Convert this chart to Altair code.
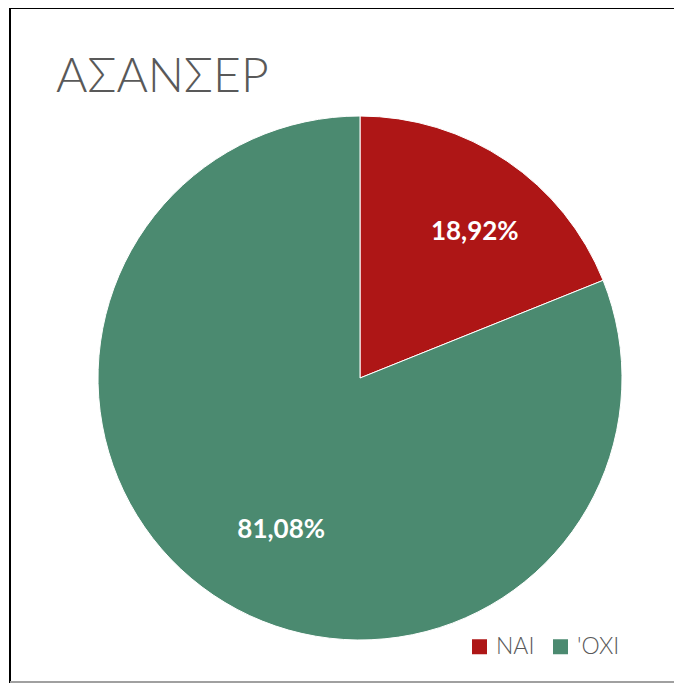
import altair as alt
import pandas as pd

title_text = "ΑΣΑΝΣΕΡ"
categories = ["ΝΑΙ", "'ΟΧΙ"]
values = [18.92, 81.08]
colors = ["#AE1616", "#4B8A70"]
# per-label fine offsets (px), style only
label_dx = [14, 22]
label_dy = [3, 3]

df = pd.DataFrame({
    "cat": categories,
    "val": values,
    "idx": list(range(len(categories))),
})
df["lab"] = [f"{v:.2f}".replace(".", ",") + "%" for v in values]

CX, CY, R = 352, 370, 262

pie = alt.Chart(df).mark_arc(outerRadius=R, stroke="white", strokeWidth=1).encode(
    theta=alt.Theta("val:Q", stack=True),
    order=alt.Order("idx:Q"),
    x=alt.value(CX),
    y=alt.value(CY),
    color=alt.Color(
        "cat:N",
        scale=alt.Scale(domain=categories, range=colors),
        sort=categories,
        legend=alt.Legend(
            title=None,
            orient="none",
            legendX=460,
            legendY=627,
            direction="horizontal",
            symbolType="square",
            symbolSize=225,
            symbolStrokeWidth=0,
            labelFontSize=23,
            labelFont="Lato",
            labelFontWeight=300,
            labelColor="#595959",
            labelOffset=5,
            columnPadding=14,
        ),
    ),
)

label_base = alt.Chart(df).transform_window(
    cum="sum(val)", sort=[alt.SortField("idx")]
).transform_calculate(
    mid="datum.cum - datum.val / 2"
)

label_layers = []
for i in range(len(categories)):
    label_layers.append(
        label_base.transform_filter(alt.datum.idx == i).mark_text(
            radius=180, font="Lato", fontSize=26, fontWeight="bold",
            color="white", dx=label_dx[i], dy=label_dy[i],
        ).encode(
            theta=alt.Theta("mid:Q", stack=False, scale=alt.Scale(domain=[0, 100])),
            x=alt.value(CX),
            y=alt.value(CY),
            text="lab:N",
        )
    )

title = alt.Chart(pd.DataFrame({"t": [title_text]})).mark_text(
    font="Lato", fontSize=48, fontWeight=300, color="#595959", align="left",
    baseline="alphabetic",
).encode(x=alt.value(48), y=alt.value(84), text="t:N")

border_left = alt.Chart(pd.DataFrame({"a": [0]})).mark_rule(color="black", strokeWidth=2).encode(
    x=alt.value(2), y=alt.value(0), y2=alt.value(675)
)
border_top = alt.Chart(pd.DataFrame({"a": [0]})).mark_rule(color="black", strokeWidth=2).encode(
    x=alt.value(2), x2=alt.value(666), y=alt.value(0)
)
border_bottom = alt.Chart(pd.DataFrame({"a": [0]})).mark_rule(color="#A0A0A0", strokeWidth=2).encode(
    x=alt.value(2), x2=alt.value(666), y=alt.value(674)
)

chart = alt.layer(pie, *label_layers, title, border_left, border_top, border_bottom).properties(
    width=666,
    height=675,
    autosize=alt.AutoSizeParams(type="none"),
    padding=0,
).resolve_scale(theta="independent").configure_view(stroke=None)

chart.save("out.html", embed_options={"renderer": "svg", "actions": False})
